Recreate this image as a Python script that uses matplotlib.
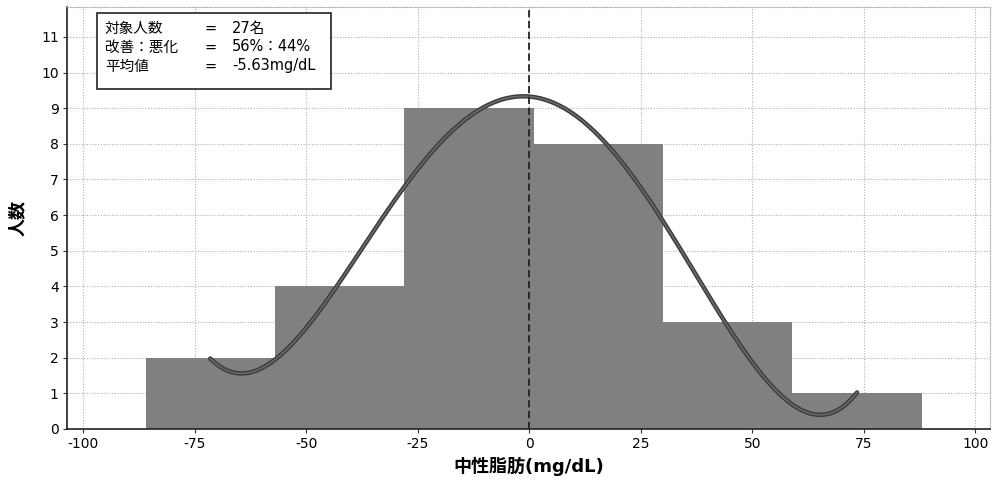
import numpy as np
import matplotlib
matplotlib.use("Agg")
import matplotlib.pyplot as plt
from matplotlib.patches import Rectangle

plt.rcParams['font.family'] = ['DejaVu Sans', 'Noto Sans CJK JP']

# ---- data ----
bin_edges = [-86, -57, -28, 1, 30, 59, 88]
counts = [2, 4, 9, 8, 3, 1]
fit_degree = 4
x_ticks = [-100, -75, -50, -25, 0, 25, 50, 75, 100]
y_ticks = list(range(0, 12))
info_labels = ["対象人数", "改善：悪化", "平均値"]
info_values = ["27名", "56%：44%", "-5.63mg/dL"]
x_label = "中性脂肪(mg/dL)"
y_label = "人数"

fig = plt.figure(figsize=(9.93, 4.83), dpi=100)
ax = fig.add_axes([0.0675, 0.112, 0.9295, 0.8735])

edges = np.array(bin_edges, float)
widths = np.diff(edges)
mids = edges[:-1] + widths / 2

ax.bar(edges[:-1], counts, width=widths, align='edge', color='#808080',
       edgecolor='none', zorder=2)

# smooth curve: least-squares polynomial fit through bar midpoints
coef = np.polyfit(mids, counts, fit_degree)
xs = np.linspace(mids[0], mids[-1], 400)
ys = np.polyval(coef, xs)
ax.plot(xs, ys, color='#3a3a3a', lw=3.2, zorder=3, solid_capstyle='round')
ax.plot(xs, ys, color='#6a6a6a', lw=1.2, zorder=4)

ax.axvline(0, color='#222222', lw=1.3, ls=(0, (4, 2)), zorder=5)

ax.set_xlim(-103.6, 103.3)
ax.set_ylim(0, 11.84)
ax.set_xticks(x_ticks)
ax.set_yticks(y_ticks)
ax.set_xticklabels([str(t) for t in x_ticks])
ax.tick_params(axis='both', labelsize=10, length=3, color='#333333', pad=3)
ax.grid(True, color='#b0b0b0', ls=(0, (1, 1.5)), lw=0.8, zorder=0)
ax.set_axisbelow(True)

for s in ['top', 'right']:
    ax.spines[s].set_color('#b0b0b0')
    ax.spines[s].set_linestyle((0, (1, 1.5)))
    ax.spines[s].set_linewidth(0.8)
for s in ['left', 'bottom']:
    ax.spines[s].set_color('#222222')
    ax.spines[s].set_linewidth(1.2)

ax.set_xlabel(x_label, fontsize=13, fontweight='bold', labelpad=4)
ax.set_ylabel(y_label, fontsize=13, fontweight='bold', labelpad=10)

# info box
box = Rectangle((0.032, 1 - (89 - 7) / 422), 0.254, (89 - 13) / 422,
                transform=ax.transAxes, facecolor='white',
                edgecolor='#222222', lw=1.2, zorder=6)
ax.add_patch(box)
line_y = [(28 - 7) / 422, (47 - 7) / 422, (66 - 7) / 422]
for lbl, val, yy in zip(info_labels, info_values, line_y):
    ax.text(0.041, 1 - yy, lbl, transform=ax.transAxes, fontsize=10.5,
            va='center', ha='left', zorder=7)
    ax.text(0.149, 1 - yy, "=", transform=ax.transAxes, fontsize=10.5,
            va='center', ha='left', zorder=7)
    ax.text(0.179, 1 - yy, val, transform=ax.transAxes, fontsize=10.5,
            va='center', ha='left', zorder=7)

fig.savefig("out.png", dpi=100)
